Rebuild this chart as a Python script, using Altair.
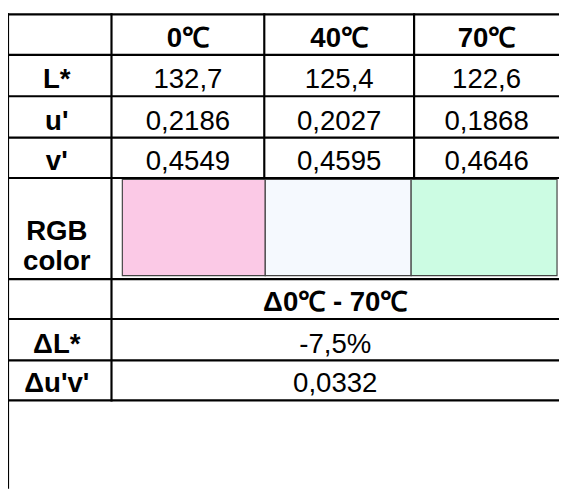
import altair as alt
import pandas as pd

temps = ["0℃", "40℃", "70℃"]
row_labels = ["L*", "u'", "v'"]
L_star = [132.7, 125.4, 122.6]
u_prime = [0.2186, 0.2027, 0.1868]
v_prime = [0.4549, 0.4595, 0.4646]
rgb_label = "RGB\ncolor"
rgb_colors = ["#FBC9E6", "#F5F9FE", "#CCFCE3"]
delta_header = "Δ0℃ - 70℃"
delta_labels = ["ΔL*", "Δu'v'"]
delta_L_pct = -7.5
delta_uv = 0.0332

# ---- table layout (plot-area pixels) ----
W, H = 559, 483
col_edges = [0, 105, 260, 412, 559]
row_edges = [3, 44, 86, 128, 169, 271.5, 312, 354, 394.5]
FONT = "Liberation Sans"
FS = 28


def fmt(v, d):
    return f"{v:.{d}f}".replace(".", ",")


def cx(i):
    return (col_edges[i] + col_edges[i + 1]) / 2


def base(r):
    return row_edges[r + 1] - 8


label_x = cx(0) - 3
merged_x = (col_edges[1] + col_edges[4]) / 2

bold_rows, norm_rows = [], []
for j, t in enumerate(temps):
    bold_rows.append(dict(t=t, x=cx(j + 1), y=base(0)))
series = [(L_star, 1), (u_prime, 4), (v_prime, 4)]
for r, (lab, (vals, d)) in enumerate(zip(row_labels, series), start=1):
    bold_rows.append(dict(t=lab, x=label_x, y=base(r)))
    for j, v in enumerate(vals):
        norm_rows.append(dict(t=fmt(v, d), x=cx(j + 1), y=base(r)))
bold_rows.append(dict(t=delta_header, x=merged_x, y=base(5)))
bold_rows.append(dict(t=delta_labels[0], x=label_x, y=base(6)))
bold_rows.append(dict(t=delta_labels[1], x=label_x, y=base(7)))
norm_rows.append(dict(t=fmt(delta_L_pct, 1) + "%", x=merged_x, y=base(6)))
norm_rows.append(dict(t=fmt(delta_uv, 4), x=merged_x, y=base(7)))

bold_df = pd.DataFrame(bold_rows)
norm_df = pd.DataFrame(norm_rows)
rgb_df = pd.DataFrame([dict(t=rgb_label, x=label_x, y=row_edges[4] + 63)])

# colour swatches
box_x = [116, 261, 409, 557]
sw_df = pd.DataFrame([
    dict(c=c, x=box_x[i], x2=box_x[i + 1], y=row_edges[4] + 1.5, y2=row_edges[5] - 3.5)
    for i, c in enumerate(rgb_colors)
])

# grid lines
lines = []
for y in row_edges:
    lines.append(dict(x=0, x2=W, y=y, y2=y))
lines.append(dict(x=0, x2=0, y=row_edges[0], y2=H))
lines.append(dict(x=col_edges[1], x2=col_edges[1], y=row_edges[0], y2=row_edges[-1]))
for c in col_edges[2:4]:
    lines.append(dict(x=c, x2=c, y=row_edges[0], y2=row_edges[4]))
lines_df = pd.DataFrame(lines)

xs = alt.Scale(domain=[0, W], range=[0, W], nice=False, zero=False)
ys = alt.Scale(domain=[0, H], range=[0, H], nice=False, zero=False)

rules = alt.Chart(lines_df).mark_rule(color="black", strokeWidth=2.2, strokeCap="square").encode(
    x=alt.X("x:Q", scale=xs, axis=None), x2="x2:Q",
    y=alt.Y("y:Q", scale=ys, axis=None), y2="y2:Q",
)

swatches = alt.Chart(sw_df).mark_rect(stroke="#444444", strokeWidth=1.2).encode(
    x=alt.X("x:Q", scale=xs, axis=None), x2="x2:Q",
    y=alt.Y("y:Q", scale=ys, axis=None), y2="y2:Q",
    color=alt.Color("c:N", scale=None),
)

bold_text = alt.Chart(bold_df).mark_text(
    font=FONT, fontSize=FS, fontWeight="bold", align="center", baseline="alphabetic", color="black"
).encode(x=alt.X("x:Q", scale=xs, axis=None), y=alt.Y("y:Q", scale=ys, axis=None), text="t:N")

norm_text = alt.Chart(norm_df).mark_text(
    font=FONT, fontSize=FS, align="center", baseline="alphabetic", color="black"
).encode(x=alt.X("x:Q", scale=xs, axis=None), y=alt.Y("y:Q", scale=ys, axis=None), text="t:N")

rgb_text = alt.Chart(rgb_df).mark_text(
    font=FONT, fontSize=FS, fontWeight="bold", align="center", baseline="alphabetic",
    color="black", lineBreak="\n", lineHeight=30
).encode(x=alt.X("x:Q", scale=xs, axis=None), y=alt.Y("y:Q", scale=ys, axis=None), text="t:N")

chart = alt.layer(swatches, rules, bold_text, norm_text, rgb_text).properties(
    width=W, height=H, padding=0, autosize="none"
).configure_view(stroke=None)

chart.save("out.html", embed_options={"renderer": "svg", "actions": False})
